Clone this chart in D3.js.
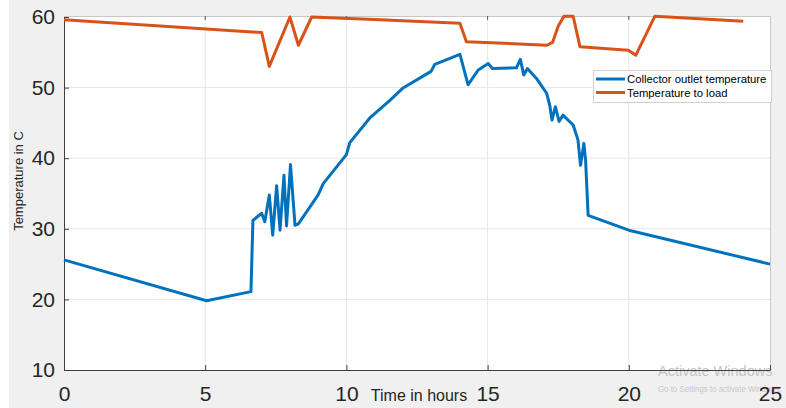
<!DOCTYPE html>
<html>
<head>
<meta charset="utf-8">
<script src="https://cdn.jsdelivr.net/npm/d3@7"></script>
<style>
  html, body { margin: 0; padding: 0; background: #ffffff; }
  svg { display: block; font-family: Arial, "Liberation Sans", sans-serif; }
</style>
</head>
<body>
<svg id="chart" width="786" height="408"></svg>
<script>
// ---- data ----
const collectorTime = [0, 5.05, 6.62, 6.69, 7.0, 7.11, 7.27, 7.39, 7.53, 7.65, 7.79, 7.88, 8.02, 8.18, 8.3, 9.0, 9.18, 10.0, 10.12, 10.83, 11.54, 11.99, 13.0, 13.13, 14.02, 14.31, 14.67, 15.02, 15.17, 16.02, 16.16, 16.28, 16.41, 16.73, 17.09, 17.2, 17.28, 17.4, 17.53, 17.67, 18.03, 18.2, 18.29, 18.41, 18.47, 18.56, 20.0, 25.0];
const collectorTemp = [25.6, 19.8, 21.1, 31.2, 32.2, 31.0, 34.8, 29.1, 36.1, 29.8, 37.6, 30.4, 39.1, 30.5, 30.7, 34.8, 36.4, 40.5, 42.2, 45.7, 48.2, 49.9, 52.3, 53.3, 54.7, 50.4, 52.5, 53.4, 52.7, 52.8, 54.0, 51.8, 52.7, 51.3, 49.2, 47.5, 45.4, 47.3, 45.2, 46.1, 44.7, 42.6, 39.0, 42.1, 39.7, 31.9, 29.8, 25.0];
const loadTime = [0, 7.0, 7.27, 8.0, 8.3, 8.77, 11.19, 14.02, 14.25, 17.1, 17.3, 17.5, 17.7, 18.03, 18.27, 19.98, 20.25, 20.92, 24.05];
const loadTemp = [59.6, 57.8, 53.0, 60.0, 56.0, 60.0, 59.6, 59.1, 56.5, 56.0, 56.4, 58.7, 60.1, 60.1, 55.8, 55.3, 54.6, 60.1, 59.4];
const xTicks = [0, 5, 10, 15, 20, 25];
const yTicks = [10, 20, 30, 40, 50, 60];
const seriesNames = ["Collector outlet temperature", "Temperature to load"];
const seriesColors = ["#0072BD", "#D95319"];

const svg = d3.select("#chart");
const L = 64, R = 770, T = 17, B = 370;

// outer figure background
svg.append("rect").attr("x", 9).attr("y", 0).attr("width", 786 - 9).attr("height", 408).attr("fill", "#f0f0f0");
// plot area
svg.append("rect").attr("x", L).attr("y", T - 1).attr("width", R - L).attr("height", B - T + 1).attr("fill", "#ffffff");

const x = d3.scaleLinear().domain([0, 25]).range([L, R]);
const y = d3.scaleLinear().domain([10, 60]).range([B, T]);

// grid
const grid = svg.append("g").attr("stroke", "#e6e6e6").attr("stroke-width", 1);
xTicks.slice(1, -1).forEach(t => grid.append("line").attr("x1", x(t)).attr("x2", x(t)).attr("y1", T - 1).attr("y2", B));
yTicks.slice(1, -1).forEach(t => grid.append("line").attr("x1", L).attr("x2", R).attr("y1", y(t)).attr("y2", y(t)));

// box top/right
svg.append("line").attr("x1", L).attr("x2", R).attr("y1", T - 1 + 0.5).attr("y2", T - 1 + 0.5).attr("stroke", "#c8c8c8");
svg.append("line").attr("x1", R + 0.5).attr("x2", R + 0.5).attr("y1", T - 1).attr("y2", B).attr("stroke", "#c8c8c8");

// watermark (screen artifact in the reference)
svg.append("text").attr("x", 658).attr("y", 376).attr("font-size", 14.5).attr("fill", "#c4c4c4").text("Activate Windows");
svg.append("text").attr("x", 658).attr("y", 392).attr("font-size", 9).attr("fill", "#c8c8c8")
  .attr("textLength", 124).attr("lengthAdjust", "spacingAndGlyphs").text("Go to Settings to activate Windows.");

// axes
const xAxis = d3.axisBottom(x).tickValues(xTicks).tickSize(-5).tickPadding(16).tickFormat(d3.format("d"));
const gx = svg.append("g").attr("transform", `translate(0,${B})`).call(xAxis);
gx.select(".domain").attr("stroke", "#404040");
gx.selectAll(".tick line").attr("stroke", "#404040");
gx.selectAll(".tick text").attr("font-size", 21).attr("fill", "#262626").attr("font-family", "Arial, 'Liberation Sans', sans-serif");

const yAxis = d3.axisLeft(y).tickValues(yTicks).tickSize(-5).tickPadding(9).tickFormat(d3.format("d"));
const gy = svg.append("g").attr("transform", `translate(${L},0)`).call(yAxis);
gy.select(".domain").attr("stroke", "#404040");
gy.selectAll(".tick line").attr("stroke", "#404040");
gy.selectAll(".tick text").attr("font-size", 21).attr("fill", "#262626").attr("font-family", "Arial, 'Liberation Sans', sans-serif");

// top ticks
xTicks.slice(1, -1).forEach(t => svg.append("line").attr("x1", x(t)).attr("x2", x(t)).attr("y1", T - 1).attr("y2", T + 3).attr("stroke", "#555"));

// axis labels
svg.append("text").attr("x", 419).attr("y", 401).attr("text-anchor", "middle")
  .attr("font-size", 16).attr("fill", "#262626").text("Time in hours");
svg.append("text").attr("transform", "translate(23,181) rotate(-90)").attr("text-anchor", "middle")
  .attr("font-size", 13).attr("fill", "#262626").text("Temperature in C");

// lines
const line = d3.line().x(d => x(d[0])).y(d => y(d[1]));
const collector = collectorTime.map((t, i) => [t, collectorTemp[i]]);
const load = loadTime.map((t, i) => [t, loadTemp[i]]);
svg.append("path").datum(collector).attr("d", line).attr("fill", "none")
  .attr("stroke", seriesColors[0]).attr("stroke-width", 3).attr("stroke-linejoin", "round");
svg.append("path").datum(load).attr("d", line).attr("fill", "none")
  .attr("stroke", seriesColors[1]).attr("stroke-width", 3).attr("stroke-linejoin", "round");

// legend
const lg = svg.append("g");
lg.append("rect").attr("x", 593.5).attr("y", 70.5).attr("width", 178).attr("height", 32)
  .attr("fill", "#ffffff").attr("stroke", "#d0d0d0");
seriesNames.forEach((name, i) => {
  const yy = 79 + i * 13.5;
  lg.append("line").attr("x1", 596).attr("x2", 625).attr("y1", yy).attr("y2", yy)
    .attr("stroke", seriesColors[i]).attr("stroke-width", 3);
  lg.append("text").attr("x", 627).attr("y", yy + 4).attr("font-size", 11.3).attr("fill", "#000").text(name);
});
</script>
</body>
</html>
